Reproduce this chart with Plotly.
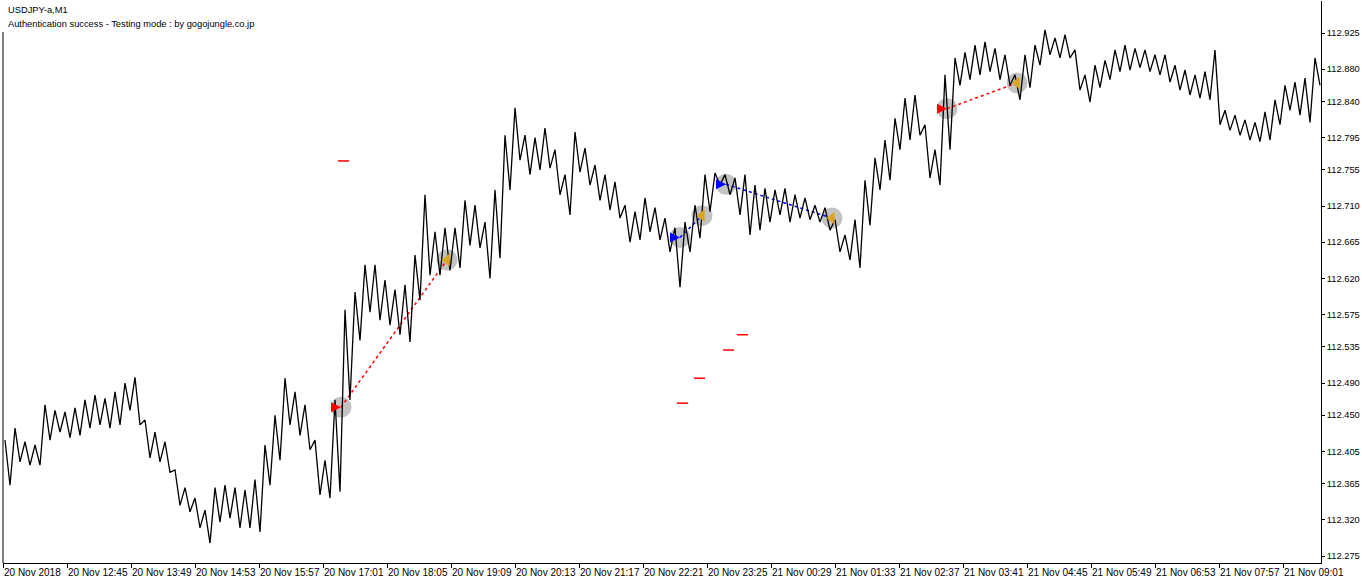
import pandas as pd
import plotly.graph_objects as go

# ---------------- data ----------------
symbol_title = "USDJPY-a,M1"
status_text = "Authentication success - Testing mode : by gogojungle.co.jp"

seg_start = "2018-11-20 11:41"   # first bar of the visible window
seg_minutes = 10                  # each high/low pair covers 10 M1 bars

seg_hi = [112.419, 112.434, 112.417, 112.413, 112.463, 112.456, 112.454, 112.459, 112.469, 112.475,
          112.471, 112.479, 112.490, 112.497, 112.444, 112.429, 112.417, 112.382, 112.360, 112.347,
          112.332, 112.360, 112.363, 112.360, 112.357, 112.370, 112.413, 112.450, 112.496, 112.479,
          112.463, 112.419, 112.394, 112.469, 112.581, 112.603, 112.637, 112.637, 112.618, 112.606,
          112.612, 112.649, 112.724, 112.678, 112.683, 112.683, 112.717, 112.711, 112.690, 112.730,
          112.798, 112.832, 112.798, 112.795, 112.807, 112.780, 112.749, 112.802, 112.782, 112.761,
          112.749, 112.740, 112.711, 112.703, 112.720, 112.708, 112.695, 112.683, 112.690, 112.711,
          112.749, 112.751, 112.749, 112.745, 112.749, 112.736, 112.732, 112.730, 112.732, 112.724,
          112.720, 112.711, 112.708, 112.693, 112.674, 112.693, 112.742, 112.770, 112.792, 112.819,
          112.844, 112.848, 112.811, 112.780, 112.873, 112.894, 112.901, 112.910, 112.914, 112.906,
          112.898, 112.873, 112.898, 112.910, 112.929, 112.919, 112.923, 112.904, 112.873, 112.885,
          112.891, 112.904, 112.910, 112.906, 112.904, 112.898, 112.898, 112.885, 112.879, 112.873,
          112.877, 112.904, 112.829, 112.823, 112.817, 112.814, 112.827, 112.842, 112.860, 112.864,
          112.869, 112.894]
seg_lo = [112.363, 112.392, 112.388, 112.388, 112.419, 112.429, 112.422, 112.425, 112.434, 112.438,
          112.434, 112.438, 112.456, 112.438, 112.397, 112.392, 112.379, 112.338, 112.330, 112.310,
          112.291, 112.317, 112.322, 112.310, 112.310, 112.305, 112.363, 112.394, 112.438, 112.425,
          112.407, 112.351, 112.347, 112.355, 112.469, 112.543, 112.578, 112.568, 112.562, 112.550,
          112.541, 112.593, 112.624, 112.624, 112.630, 112.633, 112.661, 112.658, 112.620, 112.645,
          112.730, 112.767, 112.749, 112.755, 112.757, 112.724, 112.699, 112.752, 112.736, 112.717,
          112.705, 112.695, 112.665, 112.668, 112.678, 112.668, 112.653, 112.609, 112.653, 112.670,
          112.703, 112.736, 112.724, 112.699, 112.674, 112.680, 112.690, 112.699, 112.690, 112.695,
          112.693, 112.690, 112.680, 112.653, 112.643, 112.633, 112.686, 112.730, 112.742, 112.780,
          112.792, 112.798, 112.745, 112.736, 112.780, 112.860, 112.867, 112.873, 112.877, 112.867,
          112.860, 112.842, 112.857, 112.885, 112.898, 112.894, 112.894, 112.854, 112.839, 112.857,
          112.867, 112.877, 112.879, 112.882, 112.877, 112.873, 112.864, 112.854, 112.848, 112.844,
          112.842, 112.811, 112.804, 112.798, 112.792, 112.790, 112.792, 112.811, 112.829, 112.823,
          112.814, 112.860]

# trades: entry / exit times and prices
trade_open_time = ["2018-11-20 17:19", "2018-11-20 22:58", "2018-11-20 23:44", "2018-11-21 03:25"]
trade_open_price = [112.460, 112.671, 112.737, 112.831]
trade_close_time = ["2018-11-20 19:05", "2018-11-20 23:20", "2018-11-21 01:30", "2018-11-21 04:35"]
trade_close_price = [112.643, 112.698, 112.695, 112.863]
trade_color = ["#ff0000", "#0000ff", "#0000ff", "#ff0000"]

# short red level marks
mark_time = ["2018-11-20 17:21:30", "2018-11-20 23:00:30", "2018-11-20 23:17:30",
             "2018-11-20 23:46:30", "2018-11-21 00:00:30"]
mark_price = [112.766, 112.465, 112.496, 112.531, 112.550]

# axes
x_range = ["2018-11-20 11:41", "2018-11-21 09:39"]
y_range = [112.2663, 112.9648]
y_ticks = [112.925, 112.880, 112.840, 112.795, 112.755, 112.710, 112.665, 112.620,
           112.575, 112.535, 112.490, 112.450, 112.405, 112.365, 112.320, 112.275]
x_tick_times = ["2018-11-20 11:41", "2018-11-20 12:45", "2018-11-20 13:49", "2018-11-20 14:53",
                "2018-11-20 15:57", "2018-11-20 17:01", "2018-11-20 18:05", "2018-11-20 19:09",
                "2018-11-20 20:13", "2018-11-20 21:17", "2018-11-20 22:21", "2018-11-20 23:25",
                "2018-11-21 00:29", "2018-11-21 01:33", "2018-11-21 02:37", "2018-11-21 03:41",
                "2018-11-21 04:45", "2018-11-21 05:49", "2018-11-21 06:53", "2018-11-21 07:57",
                "2018-11-21 09:01"]
x_tick_text = ["20 Nov 2018", "20 Nov 12:45", "20 Nov 13:49", "20 Nov 14:53", "20 Nov 15:57",
               "20 Nov 17:01", "20 Nov 18:05", "20 Nov 19:09", "20 Nov 20:13", "20 Nov 21:17",
               "20 Nov 22:21", "20 Nov 23:25", "21 Nov 00:29", "21 Nov 01:33", "21 Nov 02:37",
               "21 Nov 03:41", "21 Nov 04:45", "21 Nov 05:49", "21 Nov 06:53", "21 Nov 07:57",
               "21 Nov 09:01"]

FONT = "Liberation Sans"

# ---------------- build price path (high then low inside every block) ----------------
starts = pd.date_range(seg_start, periods=len(seg_hi), freq=f"{seg_minutes}min")
px_t, px_p = [], []
for i, t0 in enumerate(starts):
    px_t += [t0 + pd.Timedelta(minutes=2), t0 + pd.Timedelta(minutes=7)]
    px_p += [seg_hi[i], seg_lo[i]]

fig = go.Figure()

# grey halos
fig.add_trace(go.Scatter(
    x=trade_open_time + trade_close_time, y=trade_open_price + trade_close_price,
    mode="markers", marker=dict(size=21, color="#c3c3c3"), hoverinfo="skip", showlegend=False))

# dotted trade lines
for ot, op, ct, cp, c in zip(trade_open_time, trade_open_price, trade_close_time, trade_close_price, trade_color):
    fig.add_trace(go.Scatter(x=[ot, ct], y=[op, cp], mode="lines",
                             line=dict(color=c, width=1.5, dash="dot"), showlegend=False, hoverinfo="skip"))

# price
fig.add_trace(go.Scatter(x=px_t, y=px_p, mode="lines", line=dict(color="black", width=1.3),
                         showlegend=False, hoverinfo="skip"))

# entry arrows
fig.add_trace(go.Scatter(x=trade_open_time, y=trade_open_price, mode="markers",
                         marker=dict(symbol="arrow-right", size=10, color=trade_color),
                         showlegend=False, hoverinfo="skip"))
# exit triangles
fig.add_trace(go.Scatter(x=trade_close_time, y=trade_close_price, mode="markers",
                         marker=dict(symbol="triangle-left", size=11, color="#daa520"),
                         showlegend=False, hoverinfo="skip"))
# red level marks
fig.add_trace(go.Scatter(x=mark_time, y=mark_price, mode="markers",
                         marker=dict(symbol="line-ew", size=8, line=dict(width=1.5, color="#ff0000")),
                         showlegend=False, hoverinfo="skip"))

annotations = [
    dict(text=symbol_title, xref="paper", yref="paper", x=0.0025, y=0.984, xanchor="left",
         yanchor="middle", showarrow=False, font=dict(family=FONT, size=9.3, color="black")),
    dict(text=status_text, xref="paper", yref="paper", x=0.0025, y=0.959, xanchor="left",
         yanchor="middle", showarrow=False, font=dict(family=FONT, size=9.3, color="black")),
]
for t, txt in zip(x_tick_times, x_tick_text):
    annotations.append(dict(text=txt, x=t, xref="x", yref="paper", y=0, yanchor="top", yshift=-2,
                            xanchor="left", xshift=-1, showarrow=False,
                            font=dict(family=FONT, size=10, color="black")))

fig.update_layout(
    width=1362, height=584,
    margin=dict(l=3, r=41, t=1, b=21, autoexpand=False),
    paper_bgcolor="white", plot_bgcolor="white",
    annotations=annotations,
    shapes=[dict(type="line", xref="paper", yref="paper", x0=0, x1=0, y0=0, y1=0.945,
                 line=dict(color="black", width=1))],
    xaxis=dict(type="date", range=x_range, showgrid=False, zeroline=False,
               showline=True, linecolor="black", linewidth=1,
               tickvals=x_tick_times, ticks="outside", ticklen=4, tickcolor="black",
               showticklabels=False),
    yaxis=dict(side="right", range=y_range, showgrid=False, zeroline=False,
               showline=True, linecolor="black", linewidth=1,
               tickvals=y_ticks, ticktext=[f"{v:.3f}" for v in y_ticks],
               ticks="outside", ticklen=3, tickcolor="black", automargin=False,
               tickfont=dict(family=FONT, size=9.3, color="black")),
)

fig.write_html("out.html", config={"displayModeBar": False},
               post_script="document.body.style.margin='0';document.body.style.padding='0';")
